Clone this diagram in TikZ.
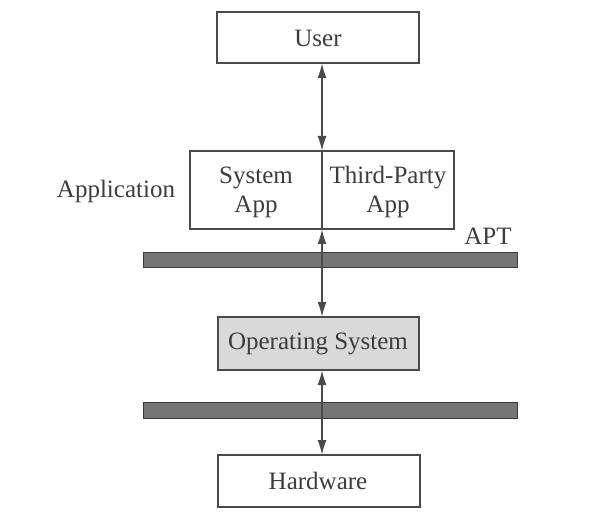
\documentclass[tikz,border=0pt]{standalone}
\usepackage{fontspec}
\setmainfont{Liberation Serif}
\usetikzlibrary{arrows.meta}
\definecolor{ink}{HTML}{3C3C3C}
\definecolor{linec}{HTML}{4A4A4A}
\definecolor{barfill}{HTML}{757575}
\definecolor{osfill}{HTML}{D9D9D9}
\begin{document}
\begin{tikzpicture}[x=1pt,y=-1pt,
  every node/.style={font=\fontsize{25}{30}\selectfont, text=ink},
  box/.style={draw=linec, line width=1.7pt, fill=white, inner sep=0pt},
  bar/.style={draw=linec!80!black, line width=0.9pt, fill=barfill},
  conn/.style={draw=linec, line width=1.7pt, {Latex[length=15pt,width=9pt]}-{Latex[length=15pt,width=9pt]}}]
\useasboundingbox (0,0) rectangle (590,524);
% boxes
\draw[box] (217,12) rectangle (419,63);
\node (user) at (318,38) {User};
\coordinate (userb) at (322,63);
\draw[box] (190,151) rectangle (454,229);
\draw[linec, line width=1.7pt] (322,151) -- (322,229);
\coordinate (appt) at (322,151);
\coordinate (appb) at (322,229);
\node[align=center] (sysapp) at (256,192) {System\\[-1pt]App};
\node[align=center] (tpapp) at (388,192) {Third-Party\\[-1pt]App};
\node (applab) at (116,191) {Application};
\draw[bar] (143,252) rectangle (517,267);
\node (apt) at (488,236) {APT};
\draw[box, fill=osfill] (218,317) rectangle (419,370);
\node (os) at (318,344) {Operating System};
\coordinate (ost) at (322,317);
\coordinate (osb) at (322,370);
\draw[bar] (143,402) rectangle (517,418);
\draw[box] (218,455) rectangle (420,507);
\node (hw) at (318,481) {Hardware};
\coordinate (hwt) at (322,455);
% connectors
\draw[conn] (userb) -- (appt);
\draw[conn] (appb) -- (ost);
\draw[conn] (osb) -- (hwt);
\end{tikzpicture}
\end{document}
